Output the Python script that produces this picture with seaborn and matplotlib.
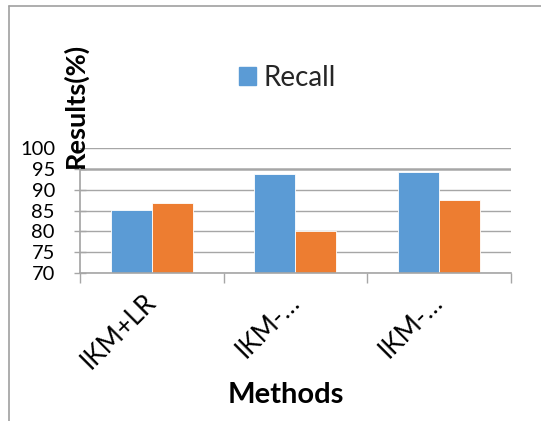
import pandas as pd
import matplotlib.pyplot as plt
import seaborn as sns
from matplotlib.lines import Line2D
from matplotlib.patches import Patch

methods = ['IKM+LR', 'IKM-a', 'IKM-b']
tick_labels = ['IKM+LR', 'IKM-…', 'IKM-…']
recall = [85.1, 93.7, 94.3]
second = [86.8, 80.1, 87.6]
y_ticks = [70, 75, 80, 85, 90, 95, 100]

df = pd.DataFrame({
    'Method': methods * 2,
    'Series': ['Recall'] * 3 + ['Series2'] * 3,
    'Value': recall + second,
})

sns.set_theme(style='white')
plt.rcParams['font.family'] = ['Lato', 'DejaVu Sans']

blue = '#5B9BD5'
orange = '#ED7D31'
grey = '#a6a6a6'

fig = plt.figure(figsize=(5.41, 4.21), dpi=100)
ax = fig.add_axes([80 / 541, (421 - 272.7) / 421, 430.7 / 541, 124.4 / 421])

sns.barplot(data=df, x='Method', y='Value', hue='Series', order=methods,
            palette=[blue, orange], saturation=1, width=0.57, edgecolor='white',
            linewidth=0.6, legend=False, ax=ax)

ax.set_ylim(70, 100)
ax.set_xlim(-0.5, 2.5)
ax.set_yticks(y_ticks)
ax.set_yticklabels([str(v) for v in y_ticks], fontsize=14.5, color='black')
ax.set_axisbelow(True)
ax.yaxis.grid(True, color=grey, lw=1)
ax.get_ygridlines()[5].set_linewidth(1.8)
ax.tick_params(axis='y', direction='inout', length=8, width=1, color=grey, pad=14, left=True)
ax.yaxis.get_major_ticks()[-1].tick1line.set_visible(False)

# category boundaries as major ticks, labels on minor ticks
ax.set_xticks([-0.5, 0.5, 1.5, 2.5])
ax.set_xticklabels([])
ax.tick_params(axis='x', which='major', direction='out', length=7, width=1, color=grey, bottom=True)
ax.set_xticks(range(len(methods)), minor=True)
ax.set_xticklabels(tick_labels, minor=True, rotation=45, ha='right', va='center',
                   rotation_mode='anchor', fontsize=19, color='black')
ax.tick_params(axis='x', which='minor', length=0, pad=18)

for side in ['top', 'right']:
    ax.spines[side].set_visible(False)
ax.spines['left'].set_color(grey)
ax.spines['left'].set_bounds(70, 95)
ax.spines['bottom'].set_color(grey)
ax.spines['bottom'].set_linewidth(1.2)

ax.set_xlabel('Methods', fontsize=21, fontweight='bold', va='center', color='black')
ax.xaxis.set_label_coords(0.478, -0.983)
ax.set_ylabel('Results(%)', fontsize=19.5, fontweight='bold', va='center', color='black')
ax.yaxis.set_label_coords(-0.0116, 1.348)

fig.legend(handles=[Patch(color=blue)], labels=['Recall'], loc='center left',
           bbox_to_anchor=(239 / 541, (421 - 78) / 421), frameon=False, fontsize=20,
           handlelength=0.62, handleheight=0.62, handletextpad=0.25,
           borderpad=0, borderaxespad=0)

# chart frame
top_y = (421 - 6) / 421
fig.add_artist(Line2D([8.5 / 541, 8.5 / 541], [0, top_y], color='#a0a0a0', lw=1.2))
fig.add_artist(Line2D([8.5 / 541, 1], [top_y, top_y], color='#a0a0a0', lw=1.2))

fig.savefig('out.png', dpi=100)
